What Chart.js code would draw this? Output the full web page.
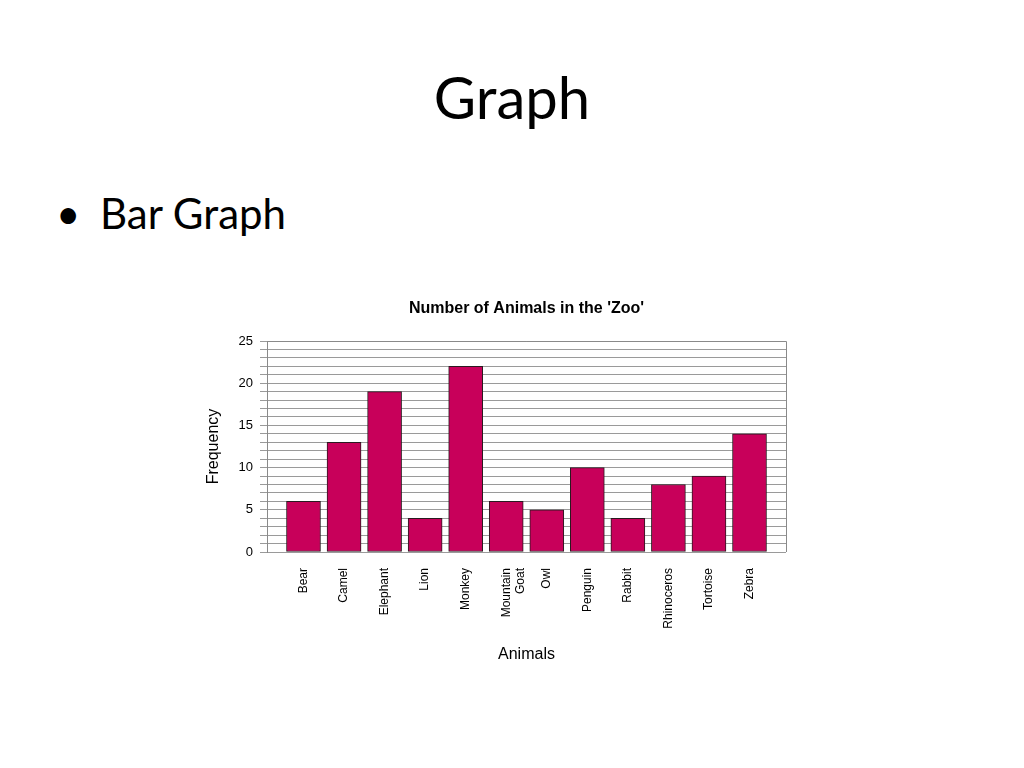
<!DOCTYPE html>
<html>
<head>
<meta charset="utf-8">
<script src="https://cdn.jsdelivr.net/npm/chart.js@4/dist/chart.umd.min.js"></script>
<style>
  html, body { margin: 0; padding: 0; background: #fff; }
  body { width: 1024px; height: 768px; position: relative; overflow: hidden; font-family: Lato, "Open Sans", sans-serif; }
  #heading { position: absolute; left: 0; width: 1024px; top: 62px; text-align: center; font-size: 58px; line-height: 70px; color: #000; }
  #bullet { position: absolute; left: 56px; top: 188px; font-size: 42px; line-height: 50px; color: #000; }
  #bullet .dot { display: inline-block; width: 44px; }
  #wrap { position: absolute; left: 0; top: 0; width: 1024px; height: 768px; }
</style>
</head>
<body>
<div id="heading">Graph</div>
<div id="bullet"><span class="dot">•</span>Bar Graph</div>
<div id="wrap"><canvas id="zooChart" width="1024" height="768"></canvas></div>
<script>
// Data
const animals = ['Bear', 'Camel', 'Elephant', 'Lion', 'Monkey', ['Mountain', 'Goat'], 'Owl', 'Penguin', 'Rabbit', 'Rhinoceros', 'Tortoise', 'Zebra'];
const frequency = [6, 13, 19, 4, 22, 6, 5, 10, 4, 8, 9, 14];
const yTicks = [0, 5, 10, 15, 20, 25];

const labelFont = "'Liberation Sans', Arial, Helvetica, sans-serif";

// outline the plot area (top and right edges)
const frame = {
    id: 'frame',
    afterDraw(chart) {
        const a = chart.chartArea;
        const ctx = chart.ctx;
        ctx.save();
        ctx.strokeStyle = '#8a8a8a';
        ctx.lineWidth = 1;
        ctx.beginPath();
        ctx.moveTo(a.left, a.top + 0.5);
        ctx.lineTo(a.right + 0.5, a.top + 0.5);
        ctx.lineTo(a.right + 0.5, a.bottom);
        ctx.stroke();
        ctx.restore();
    }
};

const ctx = document.getElementById('zooChart').getContext('2d');
new Chart(ctx, {
    type: 'bar',
    data: {
        datasets: [{
            xAxisID: 'x',
            yAxisID: 'y',
            data: frequency.map((v, i) => ({ x: i, y: v })),
            backgroundColor: '#c8005a',
            borderColor: '#2a1a20',
            borderWidth: 1,
            borderSkipped: false,
            barThickness: 34
        }]
    },
    options: {
        responsive: false,
        animation: false,
        layout: { padding: { left: 200, right: 238, top: 299, bottom: 104 } },
        plugins: {
            legend: { display: false },
            tooltip: { enabled: false },
            title: { display: false }
        },
        scales: {
            // top axis only carries the chart title, centred over the plot
            top: {
                type: 'linear',
                position: 'top',
                afterFit: (s) => { s.height = 42; },
                grid: { display: false },
                border: { display: false },
                ticks: { display: false },
                title: {
                    display: true,
                    text: "Number of Animals in the 'Zoo'",
                    color: '#000',
                    font: { family: labelFont, size: 16, weight: 'bold' },
                    padding: { top: 0, bottom: 0 }
                }
            },
            x: {
                type: 'linear',
                min: -0.9,
                max: 11.9,
                offset: false,
                afterFit: (s) => { s.height = 112; },
                grid: { display: false },
                border: { display: false },
                ticks: {
                    stepSize: 1,
                    autoSkip: false,
                    maxRotation: 90,
                    minRotation: 90,
                    padding: 8,
                    color: '#000',
                    font: { family: labelFont, size: 12 },
                    callback: (v) => {
                        const i = Math.round(v);
                        return (Math.abs(v - i) < 1e-6 && i >= 0 && i < animals.length) ? animals[i] : '';
                    }
                },
                title: {
                    display: true,
                    text: 'Animals',
                    color: '#000',
                    font: { family: labelFont, size: 16 },
                    padding: { top: 4, bottom: 0 }
                }
            },
            y: {
                min: 0,
                max: 25,
                afterFit: (s) => { s.width = 67; },
                grid: { color: '#9a9a9a', lineWidth: 1, tickLength: 7, drawTicks: true },
                border: { display: true, color: '#8a8a8a' },
                ticks: {
                    stepSize: 1,
                    autoSkip: false,
                    padding: 7,
                    color: '#000',
                    font: { family: labelFont, size: 13 },
                    callback: (v) => yTicks.includes(v) ? v : ''
                },
                title: {
                    display: true,
                    text: 'Frequency',
                    color: '#000',
                    font: { family: labelFont, size: 16 },
                    padding: { top: 4, bottom: 0 }
                }
            }
        }
    },
    plugins: [frame]
});
</script>
</body>
</html>
